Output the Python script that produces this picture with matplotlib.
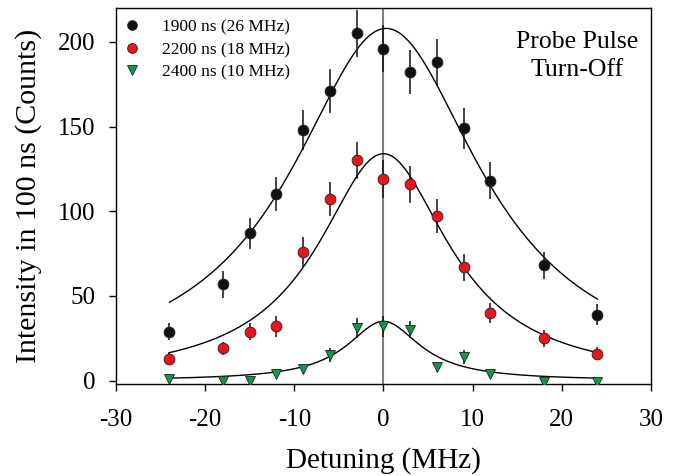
import numpy as np
import matplotlib
matplotlib.use('Agg')
import matplotlib.pyplot as plt
from matplotlib.lines import Line2D

plt.rcParams['font.family'] = ['Liberation Serif', 'DejaVu Serif']
plt.rcParams['axes.unicode_minus'] = False

# detuning (MHz)
detuning = [-24, -18, -15, -12, -9, -6, -3, 0, 3, 6, 9, 12, 18, 24]

# counts in 100 ns
counts_1900 = [29, 57, 87, 110, 148, 171, 205, 196, 182, 188, 149, 118, 68, 39]
counts_2200 = [13, 19, 29, 32, 76, 107, 130, 119, 116, 97, 67, 40, 25, 16]
counts_2400 = [1, 0, 0, 4, 7, 15, 31, 32, 30, 8, 14, 4, -1, -1]

err_1900 = [5, 8, 9, 10, 12, 13, 14, 14, 13, 14, 12, 11, 8, 6]
err_2200 = [4, 4, 5, 6, 9, 10, 11, 11, 11, 10, 8, 6, 5, 4]
err_2400 = [1, 1, 1, 2, 3, 4, 6, 6, 5, 3, 4, 2, 1, 1]

# lorentzian fit parameters: peak, centre, FWHM
fit_1900 = (208, 0.3, 26)
fit_2200 = (134, 0.0, 18)
fit_2400 = (35, 0.0, 10)

labels = ['1900 ns (26 MHz)', '2200 ns (18 MHz)', '2400 ns (10 MHz)']


def lorentz(x, p):
    _a, _x0, _w = p
    return _a / (1 + ((x - _x0) / (_w / 2.0)) ** 2)


fig = plt.figure(figsize=(6.77, 4.76), dpi=100)
ax = fig.add_axes([0.1713, 0.194, 0.7903, 0.789])

ax.axvline(0, color='#7f7f7f', lw=1.5, zorder=1)

_xf = np.linspace(-24, 24, 400)
for _p in (fit_1900, fit_2200, fit_2400):
    ax.plot(_xf, lorentz(_xf, _p), color='black', lw=1.0, zorder=2)

_series = [
    (counts_1900, err_1900, 'o', '#111111'),
    (counts_2200, err_2200, 'o', '#ec1418'),
    (counts_2400, err_2400, 'v', '#0f9a48'),
]
_handles = []
for (_ys, _es, _m, _c), _lab in zip(_series, labels):
    ax.errorbar(detuning, _ys, yerr=_es, fmt=_m, ms=7.8, mfc=_c, mec='#222222',
                mew=0.6, ecolor='#111111', elinewidth=1.1, capsize=0, zorder=3)
    _handles.append(Line2D([], [], ls='none', marker=_m, ms=7, mfc=_c,
                           mec='#222222', mew=0.6, label=_lab))

ax.legend(handles=_handles, loc='upper left', frameon=False, fontsize=12.5,
          handlelength=0.6, handletextpad=1.4, labelspacing=0.36,
          borderaxespad=0.3, borderpad=0.35)

ax.text(0.862, 0.94, 'Probe Pulse\nTurn-Off', transform=ax.transAxes,
        ha='center', va='top', fontsize=18.5, linespacing=1.35)

ax.set_xlim(-30, 30)
ax.set_ylim(-1.8, 220)
ax.set_xticks([-30, -20, -10, 0, 10, 20, 30])
ax.set_yticks([0, 50, 100, 150, 200])
ax.tick_params(direction='out', length=5, width=1, labelsize=18)
ax.tick_params(axis='x', pad=13)
ax.tick_params(axis='y', pad=10)
for _s in ax.spines.values():
    _s.set_linewidth(1.0)

ax.set_xlabel('Detuning (MHz)', fontsize=21, labelpad=12)
ax.set_ylabel('Intensity in 100 ns (Counts)', fontsize=21.5, labelpad=11)

plt.savefig('out.png', dpi=100)
